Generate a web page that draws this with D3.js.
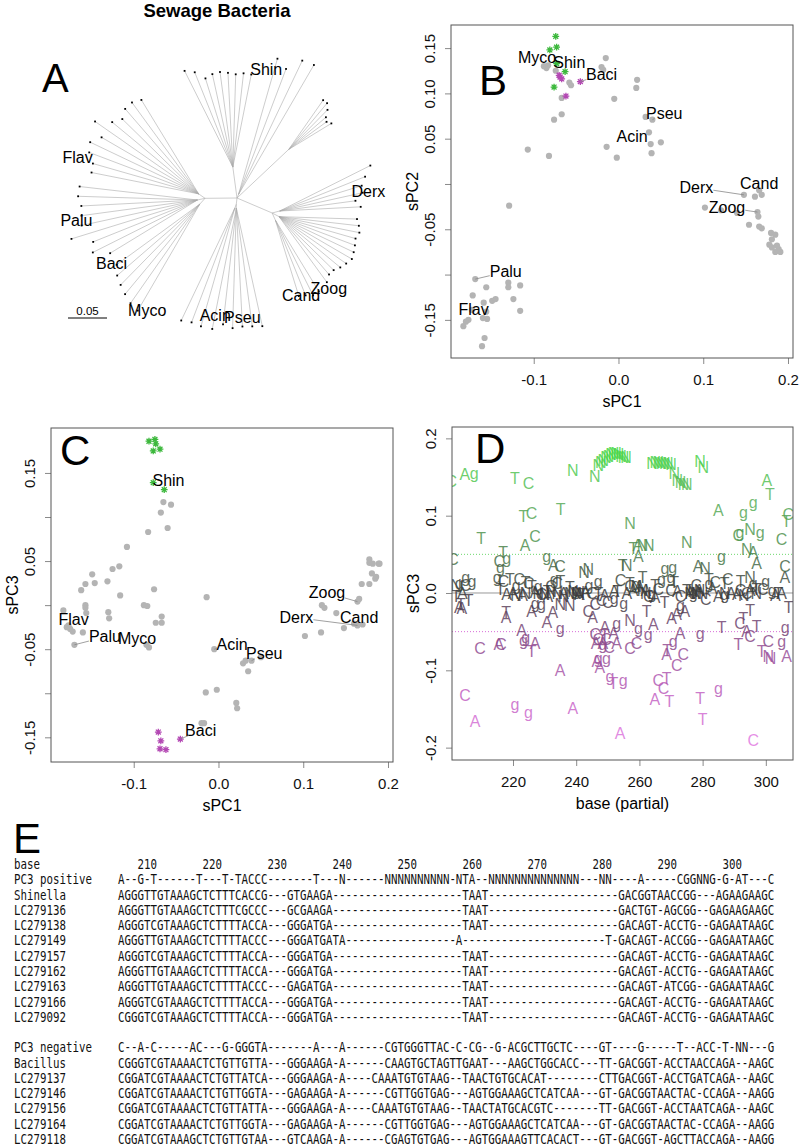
<!DOCTYPE html>
<html><head><meta charset="utf-8">
<script src="https://cdn.jsdelivr.net/npm/d3@7"></script>
<style>
body{margin:0;background:#fff}
svg{display:block;font-family:"Liberation Sans",Arial,Helvetica,sans-serif}
</style>
</head><body>
<svg id="c" width="799" height="1147"></svg>
<script>
// ---------------- DATA ----------------
// Panel A: unrooted tree (Newick, branch lengths)
const treeNewick = "((s1:0.138,s2:0.131,s3:0.119,s4:0.122,s5:0.123,s6:0.121,s7:0.119,s8:0.121,Shin:0.121):0.040,(t1:0.181,t2:0.172,t3:0.190,t4:0.192):0.005,(u1:0.077,u2:0.077,u3:0.071,u4:0.063,u5:0.060,u6:0.064):0.091,((d1:0.130,d2:0.118,d3:0.110,d4:0.109,Derx:0.098,d6:0.104):0.010,(r1:0.100,r2:0.103,r3:0.105,r4:0.102,r5:0.104,r6:0.106,r7:0.108,r8:0.105,r9:0.102,r10:0.098,r11:0.098,r12:0.104):0.010,(Zoog:0.107,Cand:0.108,c3:0.104,c4:0.102):0.010):0.049,((Pseu:0.155,a2:0.153,a3:0.152,a4:0.154,a5:0.150,Acin:0.158):0.005,(m1:0.158,m2:0.157,Myco:0.160):0.005):0.008,((b1:0.158,b2:0.155,b3:0.150,b4:0.145,b5:0.140,Baci:0.132):0.010,(p1:0.131,p2:0.150,p3:0.144,Palu:0.169,p5:0.152,p6:0.150,p7:0.149,p8:0.153,p9:0.152):0.010,(Flav:0.140,l2:0.141,l3:0.150,l4:0.154,l5:0.144,l6:0.162,l7:0.144,l8:0.137,l9:0.144,l10:0.145,l11:0.141):0.010):0.041);";
const treeLabelNames = ["Shin","Derx","Cand","Zoog","Acin","Pseu","Myco","Baci","Palu","Flav"];
const treeLabelOffsets = [[15,-5],[13,-9],[-12,0],[10,-3],[3,-14],[-20,-9],[-34,-10],[-5,-1],[5,-18],[-14,-15]];
const scaleBarValue = 0.05;

// Panel B: sPC1 vs sPC2
const bGray = [[-0.088,0.130],[-0.085,0.128],[-0.083,0.131],[-0.074,0.125],[-0.058,0.112],[-0.056,0.109],[-0.067,0.095],[-0.067,0.077],[-0.076,0.071],[-0.107,0.038],[-0.082,0.031],[-0.129,-0.024],[-0.020,0.129],[-0.018,0.126],[-0.015,0.139],[-0.005,0.094],[0.022,0.115],[0.021,0.106],[-0.014,0.041],[-0.002,0.029],[0.032,0.074],[0.040,0.071],[0.036,0.057],[0.038,0.044],[0.050,0.046],[0.039,0.034],[0.102,-0.026],[0.121,-0.029],[0.140,-0.032],[0.148,-0.012],[0.161,-0.014],[0.166,-0.007],[0.169,-0.012],[0.164,-0.031],[0.165,-0.036],[0.154,-0.045],[0.166,-0.047],[0.169,-0.049],[0.180,-0.054],[0.185,-0.056],[0.181,-0.061],[0.178,-0.067],[0.181,-0.070],[0.185,-0.075],[0.189,-0.072],[0.191,-0.075],[0.187,-0.068],[-0.169,-0.105],[-0.156,-0.114],[-0.130,-0.109],[-0.130,-0.114],[-0.116,-0.112],[-0.172,-0.123],[-0.124,-0.127],[-0.159,-0.131],[-0.149,-0.129],[-0.145,-0.127],[-0.116,-0.140],[-0.173,-0.139],[-0.156,-0.141],[-0.155,-0.149],[-0.160,-0.148],[-0.177,-0.150],[-0.180,-0.152],[-0.183,-0.157],[-0.161,-0.179],[-0.158,-0.170]];
const bGreen = [[-0.074,0.163],[-0.073,0.151],[-0.081,0.148],[-0.076,0.107],[-0.063,0.124],[-0.073,0.133]];
const bMagenta = [[-0.070,0.120],[-0.067,0.116],[-0.045,0.113],[-0.062,0.097],[-0.069,0.118]];
// label, x, y, target x, target y, leader line
const bLabels = [["Myco",-0.096,0.140,-0.085,0.128,0],["Shin",-0.058,0.134,-0.063,0.124,0],["Baci",-0.020,0.121,-0.045,0.113,1],["Pseu",0.054,0.078,0.040,0.071,1],["Acin",0.016,0.053,0.036,0.057,0],["Derx",0.092,-0.004,0.148,-0.012,1],["Cand",0.166,0.001,0.166,-0.007,0],["Zoog",0.128,-0.026,0.164,-0.031,1],["Palu",-0.133,-0.097,-0.169,-0.105,1],["Flav",-0.171,-0.138,-0.160,-0.148,0]];

// Panel C: sPC1 vs sPC3
const cGray = [[-0.065,0.117],[-0.056,0.114],[-0.068,0.105],[-0.060,0.0875],[-0.083,0.083],[-0.108,0.066],[-0.125,0.041],[-0.117,0.044],[-0.149,0.035],[-0.157,0.024],[-0.146,0.025],[-0.162,0.017],[-0.131,0.027],[-0.116,0.011],[-0.076,0.018],[-0.088,0.000],[-0.084,-0.001],[-0.183,-0.006],[-0.157,0.000],[-0.157,-0.003],[-0.156,-0.009],[-0.130,-0.008],[-0.129,-0.015],[-0.067,-0.013],[-0.067,-0.020],[-0.074,-0.020],[-0.179,-0.025],[-0.175,-0.027],[-0.172,-0.030],[-0.177,-0.023],[-0.160,-0.031],[-0.170,-0.045],[-0.085,-0.045],[-0.082,-0.048],[-0.014,0.009],[-0.005,-0.050],[0.029,-0.066],[0.032,-0.063],[0.035,-0.075],[0.039,-0.063],[0.050,-0.059],[-0.015,-0.099],[-0.002,-0.096],[0.021,-0.111],[0.022,-0.117],[-0.020,-0.134],[-0.017,-0.134],[0.102,-0.035],[0.121,-0.031],[0.122,0.000],[0.125,-0.003],[0.139,-0.009],[0.148,-0.026],[0.164,0.004],[0.166,0.007],[0.160,-0.021],[0.164,-0.023],[0.170,-0.022],[0.169,0.024],[0.178,0.024],[0.181,0.036],[0.185,0.030],[0.186,0.032],[0.178,0.052],[0.178,0.048],[0.182,0.047],[0.189,0.047],[0.190,0.047]];
const cGreen = [[-0.082,0.186],[-0.075,0.188],[-0.074,0.183],[-0.077,0.175],[-0.069,0.177],[-0.077,0.139],[-0.064,0.131]];
const cMagenta = [[-0.071,-0.144],[-0.068,-0.154],[-0.069,-0.163],[-0.062,-0.164],[-0.045,-0.152]];
const cLabels = [["Shin",-0.059,0.141,-0.077,0.139,0],["Zoog",0.128,0.014,0.164,0.004,1],["Derx",0.092,-0.014,0.164,-0.023,1],["Cand",0.166,-0.014,0.166,-0.021,0],["Flav",-0.171,-0.016,-0.177,-0.023,0],["Palu",-0.134,-0.036,-0.170,-0.045,1],["Myco",-0.096,-0.038,-0.082,-0.048,0],["Acin",0.016,-0.045,-0.005,-0.050,1],["Pseu",0.054,-0.055,0.039,-0.063,1],["Baci",-0.021,-0.142,-0.045,-0.152,1]];

// Panel D: loadings by base position, per nucleotide letter [base, sPC3]
const dA = [[204.8,0.154],[223.8,0.062],[232.8,0.036],[259.5,0.062],[259.7,0.047],[285,0.107],[296,0.053],[297.1,0.038],[278.6,0.034],[300.3,0.146],[203,-0.018],[204,0.0],[218,-0.002],[220,0.0],[223,-0.003],[227,0.001],[231,-0.004],[236,0.0],[241,-0.002],[243,0.001],[249,-0.003],[252,0.002],[256,-0.001],[258,0.004],[260,0.008],[262,0.003],[265,-0.006],[272,0.002],[276,-0.001],[279,0.004],[283,0.006],[285,-0.004],[289,0.0],[291,-0.002],[295,0.003],[303,-0.003],[305,0.0],[306,0.02],[203.8,-0.02],[217.8,-0.031],[225.9,-0.024],[232.6,-0.025],[245.2,-0.031],[230.7,-0.038],[222.7,-0.048],[227,-0.065],[215.5,-0.067],[234.9,-0.1],[208,-0.166],[238.9,-0.149],[253.9,-0.182],[264.9,-0.138],[268.6,-0.08],[246.5,-0.089],[247.5,-0.096],[246.3,-0.065],[248.4,-0.065],[252.8,-0.065],[249.1,-0.044],[251.8,-0.052],[264.4,-0.041],[293.9,-0.05],[306.6,-0.082],[271.8,-0.028],[274.4,-0.024],[270.2,-0.033],[272.9,-0.052]];
const dC = [[200.5,0.144],[224.9,0.142],[225.9,0.103],[227,0.073],[215.7,0.041],[234.9,0.035],[291.3,0.075],[307.1,0.102],[305,0.069],[306.1,0.035],[201,0.043],[205,0.01],[217,0.015],[222,0.018],[225,0.012],[229,-0.002],[232,0.008],[234,0.012],[245,0.0],[246,-0.015],[248,-0.01],[250,-0.012],[254,0.016],[257,0.008],[263,-0.004],[266,0.005],[270,0.003],[273,-0.005],[278,0.01],[281,-0.008],[284,0.014],[288,0.018],[292,0.003],[294,0.0],[299,0.005],[243.8,-0.024],[209.6,-0.072],[216.2,-0.067],[296,-0.191],[204.8,-0.133],[266,-0.113],[267.6,-0.123],[271.8,-0.093],[273.9,-0.08],[246,-0.054],[257,-0.072],[259.1,-0.065],[291.8,-0.039],[295,-0.056],[300.8,-0.063],[249.5,-0.06],[250.5,-0.07],[247,-0.06]];
const dG = [[207.7,0.155],[218,0.045],[230.7,0.047],[292.9,0.104],[296,0.117],[291.8,0.079],[298.2,0.079],[286,0.047],[268.1,0.032],[216,0.033],[270.5,0.033],[203,0.012],[205,0.02],[207,0.015],[215,0.02],[221,0.01],[228,0.008],[229,-0.015],[233,0.017],[240,0.004],[244,0.01],[247,0.015],[252,-0.007],[255,-0.013],[259,0.011],[264,0.0],[267,0.017],[270,0.02],[273,-0.016],[277,0.0],[282,0.012],[287,-0.002],[296,0.013],[300,0.015],[302,0.004],[227,-0.013],[234.9,-0.046],[223.3,-0.061],[224,-0.058],[220.6,-0.144],[224.9,-0.154],[285,-0.123],[249.6,-0.085],[250.7,-0.108],[254.9,-0.113],[248.4,-0.067],[252.8,-0.039],[259.7,-0.046],[262.8,-0.054],[279.2,-0.052],[305,-0.063],[306.1,-0.045],[270.7,-0.063],[247,-0.085]];
const dT = [[220.6,0.148],[223.3,0.099],[235.1,0.108],[209.9,0.071],[216.9,0.053],[254.7,0.036],[258.1,0.058],[301.3,0.128],[306.5,0.093],[202,-0.005],[206,-0.01],[216,0.005],[219,0.017],[224,0.014],[226,0.009],[231,0.002],[235,0.015],[238,0.007],[242,-0.002],[247,0.0],[253,0.002],[257,0.012],[261,0.02],[265,0.01],[268,-0.012],[271,0.014],[275,0.004],[282,0.017],[287,0.013],[292,0.015],[297,0.005],[304,0.0],[203.5,-0.015],[217.8,-0.025],[225.9,-0.076],[251.8,-0.117],[279.2,-0.136],[280,-0.163],[268.6,-0.11],[268.8,-0.074],[286,-0.044],[292.9,-0.033],[295,-0.022],[291.3,-0.067],[297.1,-0.043],[298.7,-0.076],[307.2,-0.018],[262.3,-0.024],[249,-0.055],[269.5,-0.14]];
const dN = [[238.9,0.159],[245.9,0.151],[247,0.165],[247.8,0.169],[248.6,0.172],[249.4,0.175],[250.2,0.177],[251,0.179],[251.8,0.18],[252.6,0.18],[253.4,0.179],[254.2,0.177],[255,0.176],[255.8,0.175],[264,0.168],[265,0.169],[266,0.169],[267,0.168],[268,0.168],[269,0.167],[270,0.166],[271,0.155],[272,0.145],[273,0.143],[274,0.141],[275,0.14],[279.2,0.17],[280.2,0.163],[257,0.09],[275,0.066],[261,0.062],[263,0.062],[295,0.082],[294,0.056],[256,0.036],[280.8,0.032],[243.8,0.03],[242.5,0.026],[295,0.02],[202,0.01],[221,-0.003],[224,0.0],[228,0.0],[230,-0.002],[232,0.002],[234,0.0],[236,-0.005],[238,0.0],[239,0.002],[240,-0.001],[241,0.001],[259,0.008],[261,0.004],[262,0.0],[276,0.0],[277,0.002],[278,-0.001],[279,0.003],[280,0.0],[287,0.0],[293,-0.003],[297,0.0],[238,-0.016],[257,-0.035],[300.8,-0.082],[301.5,-0.084],[235,-0.015]];
const dThreshold = 0.05;

// Panel E: alignment
const eTicks = [210,220,230,240,250,260,270,280,290,300];
const eNames = ["PC3 positive","Shinella","LC279136","LC279138","LC279149","LC279157","LC279162","LC279163","LC279166","LC279092","","PC3 negative","Bacillus","LC279137","LC279146","LC279156","LC279164","LC279118"];
const eSeqs = [
"A--G-T------T---T-TACCC-------T---N------NNNNNNNNNN-NTA--NNNNNNNNNNNNNN---NN----A-----CGGNNG-G-AT---C",
"AGGGTTGTAAAGCTCTTTCACCG---GTGAAGA--------------------TAAT--------------------GACGGTAACCGG---AGAAGAAGC",
"AGGGTTGTAAAGCTCTTTCGCCC---GCGAAGA--------------------TAAT--------------------GACTGT-AGCGG--GAGAAGAAGC",
"AGGGTCGTAAAGCTCTTTTACCA---GGGATGA--------------------TAAT--------------------GACAGT-ACCTG--GAGAATAAGC",
"AGGGTTGTAAAGCTCTTTTACCC---GGGATGATA-----------------A----------------------T-GACAGT-ACCGG--GAGAATAAGC",
"AGGGTCGTAAAGCTCTTTTACCA---GGGATGA--------------------TAAT--------------------GACAGT-ACCTG--GAGAATAAGC",
"AGGGTTGTAAAGCTCTTTTACCA---GGGATGA--------------------TAAT--------------------GACAGT-ACCTG--GAGAATAAGC",
"AGGGTTGTAAAGCTCTTTTACCC---GAGATGA--------------------TAAT--------------------GACAGT-ATCGG--GAGAATAAGC",
"AGGGTCGTAAAGCTCTTTTACCA---GGGATGA--------------------TAAT--------------------GACAGT-ACCTG--GAGAATAAGC",
"CGGGTCGTAAAGCTCTTTTACCA---GGGATGA--------------------TAAT--------------------GACAGT-ACCTG--GAGAATAAGC",
"",
"C--A-C-----AC---G-GGGTA-------A---A------CGTGGGTTAC-C-CG--G-ACGCTTGCTC----GT----G-----T--ACC-T-NN---G",
"CGGGTCGTAAAACTCTGTTGTTA---GGGAAGA-A------CAAGTGCTAGTTGAAT---AAGCTGGCACC---TT-GACGGT-ACCTAACCAGA--AAGC",
"CGGATCGTAAAACTCTGTTATCA---GGGAAGA-A----CAAATGTGTAAG--TAACTGTGCACAT--------CTTGACGGT-ACCTGATCAGA--AAGC",
"CGGATCGTAAAACTCTGTTGGTA---GAGAAGA-A------CGTTGGTGAG---AGTGGAAAGCTCATCAA---GT-GACGGTAACTAC-CCAGA--AAGG",
"CGGATCGTAAAACTCTGTTATTA---GGGAAGA-A----CAAATGTGTAAG--TAACTATGCACGTC-------TT-GACGGT-ACCTAATCAGA--AAGC",
"CGGATCGTAAAACTCTGTTGGTA---GAGAAGA-A------CGTTGGTGAG---AGTGGAAAGCTCATCAA---GT-GACGGTAACTAC-CCAGA--AAGG",
"CGGATCGTAAAGCTCTGTTGTAA---GTCAAGA-A------CGAGTGTGAG---AGTGGAAAGTTCACACT---GT-GACGGT-AGCTTACCAGA--AAGG"
];

// ---------------- DRAW ----------------
const svg = d3.select("#c");
const FONT = "'Liberation Sans',Arial,Helvetica,sans-serif";
const GRAY_PT = "#b4b4b4", GREEN = "#3cb83c", MAG = "#b348b3";

svg.append("text").attr("x",217).attr("y",17).attr("text-anchor","middle")
  .attr("font-weight","bold").attr("font-size",18.5).text("Sewage Bacteria");

function panelLetter(t,x,y,s){ svg.append("text").attr("x",x).attr("y",y).attr("font-size",s).attr("fill","#000").text(t); }

// ---- Panel A ----
function parseNewick(s){
  let i=0;
  function node(){
    const n={children:[],len:0,name:""};
    if(s[i]==='('){ i++; n.children.push(node()); while(s[i]===','){ i++; n.children.push(node()); } i++; }
    let name=""; while(i<s.length && !":,);".includes(s[i])) name+=s[i++];
    n.name=name;
    if(s[i]===':'){ i++; let num=""; while(i<s.length && !",);".includes(s[i])) num+=s[i++]; n.len=+num; }
    return n;
  }
  return node();
}
const treeRoot = d3.hierarchy(parseNewick(treeNewick), d=>d.children.length?d.children:null).count();
const brLen = d3.scaleLinear().domain([0,0.05]).range([0,39]);
function place(node,x,y,a0,a1){
  node.px=x; node.py=y;
  if(!node.children) return;
  let a=a0; const per=(a1-a0)/node.value;
  for(const c of node.children){
    const w=c.value*per, mid=(a+w/2)*Math.PI/180, r=brLen(c.data.len);
    place(c, x+r*Math.cos(mid), y+r*Math.sin(mid), a, a+w);
    a+=w;
  }
}
place(treeRoot, 237, 198, -119, 241);
const gA = svg.append("g");
gA.selectAll("line.br").data(treeRoot.links()).join("line")
  .attr("x1",d=>d.source.px).attr("y1",d=>d.source.py).attr("x2",d=>d.target.px).attr("y2",d=>d.target.py)
  .attr("stroke","#ababab").attr("stroke-width",0.6);
gA.selectAll("rect.tip").data(treeRoot.leaves()).join("rect")
  .attr("x",d=>d.px-0.9).attr("y",d=>d.py-0.9).attr("width",1.8).attr("height",1.8).attr("fill","#000");
treeLabelNames.forEach((nm,i)=>{
  const lf = treeRoot.leaves().find(l=>l.data.name===nm);
  gA.append("text").attr("x",lf.px+treeLabelOffsets[i][0]).attr("y",lf.py+treeLabelOffsets[i][1])
    .attr("dy","0.35em").attr("text-anchor","middle").attr("font-size",16).text(nm);
});
gA.append("line").attr("x1",68).attr("x2",68+brLen(scaleBarValue)).attr("y1",318).attr("y2",318).attr("stroke","#000").attr("stroke-width",1);
gA.append("text").attr("x",68+brLen(scaleBarValue)/2).attr("y",315).attr("text-anchor","middle").attr("font-size",11.5).text(scaleBarValue.toFixed(2));
panelLetter("A",42,92,40);

// ---- generic R-like axes ----
function rAxes(g, x, y, box, xt, xl, yt, yl, xTitle, yTitle){
  const ax = g.append("g").attr("transform",`translate(0,${box.b})`)
    .call(d3.axisBottom(x).tickValues(xt).tickFormat((d,i)=>xl[i]).tickSize(6).tickSizeOuter(0));
  ax.attr("font-size",15).attr("font-family",FONT);
  ax.select(".domain").remove();
  ax.selectAll("line").attr("stroke","#8a8a8a");
  ax.selectAll("text").attr("y",27).attr("dy",null).attr("fill","#111");
  const ay = g.append("g").attr("transform",`translate(${box.l},0)`)
    .call(d3.axisLeft(y).tickValues(yt).tickFormat((d,i)=>yl[i]).tickSize(6).tickSizeOuter(0));
  ay.attr("font-size",15).attr("font-family",FONT);
  ay.select(".domain").remove();
  ay.selectAll("line").attr("stroke","#8a8a8a");
  ay.selectAll("text").attr("dy",null).attr("x",0).attr("y",-16).attr("transform","rotate(-90)").attr("text-anchor","middle").attr("fill","#111");
  g.append("rect").attr("x",box.l).attr("y",box.t).attr("width",box.r-box.l).attr("height",box.b-box.t)
    .attr("fill","none").attr("stroke","#555").attr("stroke-width",1);
  g.append("text").attr("x",(box.l+box.r)/2).attr("y",box.b+49).attr("text-anchor","middle").attr("font-size",16).text(xTitle);
  g.append("text").attr("transform",`translate(${box.l-33},${(box.t+box.b)/2}) rotate(-90)`).attr("text-anchor","middle").attr("font-size",16).text(yTitle);
}
function star(s){ const k=s*0.72; return `M${-s},0L${s},0M0,${-s}L0,${s}M${-k},${-k}L${k},${k}M${-k},${k}L${k},${-k}`; }

function scatterPanel(box, xDom, yDom, yt, yl, yTitle, gray, green, mag, labels, letter, lx, ly){
  const g = svg.append("g");
  const x = d3.scaleLinear().domain(xDom).range([box.l,box.r]);
  const y = d3.scaleLinear().domain(yDom).range([box.b,box.t]);
  g.selectAll("circle").data(gray).join("circle").attr("cx",d=>x(d[0])).attr("cy",d=>y(d[1])).attr("r",3.1).attr("fill",GRAY_PT);
  g.selectAll("path.sg").data(green).join("path").attr("transform",d=>`translate(${x(d[0])},${y(d[1])})`).attr("d",star(3.4)).attr("stroke",GREEN).attr("stroke-width",1.3).attr("fill","none");
  g.selectAll("path.sm").data(mag).join("path").attr("transform",d=>`translate(${x(d[0])},${y(d[1])})`).attr("d",star(3.4)).attr("stroke",MAG).attr("stroke-width",1.3).attr("fill","none");
  labels.forEach(L=>{
    const t = g.append("text").attr("x",x(L[1])).attr("y",y(L[2])).attr("dy","0.35em").attr("text-anchor","middle").attr("font-size",16).text(L[0]);
    if(L[5]){
      const b = t.node().getBBox();
      const cx=b.x+b.width/2, cy=b.y+b.height/2, tx=x(L[3]), ty=y(L[4]);
      const dx=tx-cx, dy=ty-cy;
      const tt = Math.min(Math.abs(dx)>1e-6? (b.width/2)/Math.abs(dx):1e9, Math.abs(dy)>1e-6? (b.height/2*0.6)/Math.abs(dy):1e9);
      if(tt<1){ g.append("line").attr("x1",cx+dx*tt).attr("y1",cy+dy*tt).attr("x2",tx).attr("y2",ty).attr("stroke","#888").attr("stroke-width",0.8); }
    }
  });
  rAxes(g, x, y, box, [-0.1,0,0.1,0.2], ["-0.1","0.0","0.1","0.2"], yt, yl, "sPC1", yTitle);
  panelLetter(letter, lx, ly, 42);
}
scatterPanel({l:451,r:793,t:25,b:358}, [-0.1976,0.2059], [-0.1921,0.1755],
  [-0.15,-0.10,-0.05,0,0.05,0.10,0.15], ["-0.15","","-0.05","","0.05","0.10","0.15"], "sPC2",
  bGray, bGreen, bMagenta, bLabels, "B", 479, 95);
scatterPanel({l:51,r:393,t:428,b:762}, [-0.1976,0.2059], [-0.178,0.201],
  [-0.15,-0.10,-0.05,0,0.05,0.10,0.15], ["-0.15","","-0.05","","0.05","","0.15"], "sPC3",
  cGray, cGreen, cMagenta, cLabels, "C", 60, 465);

// ---- Panel D ----
(function(){
  const box={l:452,r:793,t:427,b:760};
  const g = svg.append("g");
  const x = d3.scaleLinear().domain([200.7,308.6]).range([box.l,box.r]);
  const y = d3.scaleLinear().domain([-0.216,0.2147]).range([box.b,box.t]);
  const col = d3.scaleLinear().domain([-0.2,-0.13,-0.06,-0.025,0,0.025,0.06,0.13,0.18])
    .range(["#e67ee6","#c060c0","#8a4a8a","#5e445e","#3a3a3a","#465846","#4e8e4e","#5cb85c","#48d848"]);
  svg.append("defs").append("clipPath").attr("id","clipD").append("rect").attr("x",box.l).attr("y",box.t).attr("width",box.r-box.l).attr("height",box.b-box.t);
  const inner = g.append("g").attr("clip-path","url(#clipD)");
  inner.append("line").attr("x1",box.l).attr("x2",box.r).attr("y1",y(0)).attr("y2",y(0)).attr("stroke","#999").attr("stroke-width",1);
  inner.append("line").attr("x1",box.l).attr("x2",box.r).attr("y1",y(dThreshold)).attr("y2",y(dThreshold)).attr("stroke","#6cd86c").attr("stroke-dasharray","1,2").attr("stroke-width",1);
  inner.append("line").attr("x1",box.l).attr("x2",box.r).attr("y1",y(-dThreshold)).attr("y2",y(-dThreshold)).attr("stroke","#d86cd8").attr("stroke-dasharray","1,2").attr("stroke-width",1);
  const sets = [["A",dA],["C",dC],["g",dG],["T",dT],["N",dN]];
  sets.forEach(([ch,arr])=>{
    inner.selectAll(null).data(arr).join("text")
      .attr("x",d=>x(d[0])).attr("y",d=>y(d[1])).attr("dy","0.35em").attr("text-anchor","middle")
      .attr("font-size",16).attr("fill",d=>col(d[1])).attr("fill-opacity",0.85).text(ch);
  });
  rAxes(g, x, y, box, [220,240,260,280,300], ["220","240","260","280","300"],
    [-0.2,-0.1,0,0.1,0.2], ["-0.2","-0.1","0.0","0.1","0.2"], "base (partial)", "sPC3");
  panelLetter("D",475,463,42);
})();

// ---- Panel E ----
panelLetter("E",13,853,42);
(function(){
  const MONO = "'DejaVu Sans Mono','Liberation Mono',monospace";
  const cw = 6.5, x0 = 118, nameX = 14, y0 = 864, step = 15.28;
  const colX = d3.scaleLinear().domain([207,208]).range([x0, x0+cw]);
  const g = svg.append("g").attr("fill","#111");
  function mono(x,y,s){
    const t = g.append("text").attr("x",0).attr("y",0)
      .style("font-family",MONO).style("font-size","13.5px").style("white-space","pre").text(s);
    const natural = t.node().getComputedTextLength() || (s.length*8.13);
    t.attr("transform",`translate(${x},${y}) scale(${(s.length*cw)/natural},1)`);
    return t;
  }
  mono(nameX, y0+5, "base");
  eTicks.forEach(t=>mono(colX(t), y0+5, String(t)));
  eNames.forEach((nm,i)=>{
    const yy = y0 + (i+1)*step + 5;
    if(nm) mono(nameX, yy, nm);
    if(eSeqs[i]) mono(x0, yy, eSeqs[i]);
  });
})();
</script>
</body></html>
